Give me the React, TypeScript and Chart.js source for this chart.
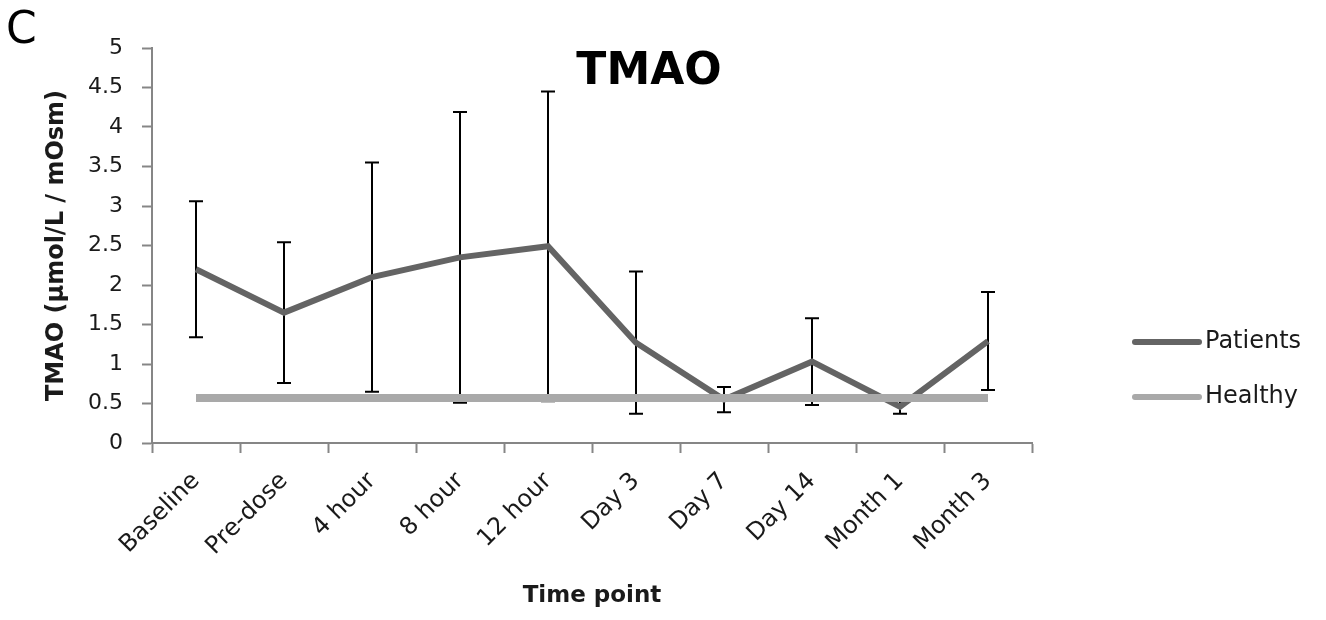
import React, { useEffect, useRef } from 'react';
import { Chart, registerables } from 'chart.js';

Chart.register(...registerables);

// ---- data ----
const categories = ['Baseline', 'Pre-dose', '4 hour', '8 hour', '12 hour', 'Day 3', 'Day 7', 'Day 14', 'Month 1', 'Month 3'];
const patientsMean = [2.2, 1.65, 2.1, 2.35, 2.49, 1.27, 0.55, 1.03, 0.46, 1.29];
const patientsSD = [0.86, 0.89, 1.45, 1.84, 1.96, 0.9, 0.16, 0.55, 0.09, 0.62];
const healthyMean = [0.57, 0.57, 0.57, 0.57, 0.57, 0.57, 0.57, 0.57, 0.57, 0.57];
const yTickValues = [0, 0.5, 1, 1.5, 2, 2.5, 3, 3.5, 4, 4.5, 5];
const seriesLabels = ['Patients', 'Healthy'];
const chartTitle = 'TMAO';
const panelLetter = 'C';
const xAxisTitle = 'Time point';
const yAxisTitle = 'TMAO (µmol/L / mOsm)';

const FONT = "'DejaVu Sans', sans-serif";
const AXIS_GRAY = '#868686';
const TEXT = '#1a1a1a';
const PATIENT_COLOR = '#646464';
const HEALTHY_COLOR = '#a9a9a9';

const errorBarsPlugin = {
  id: 'errorBars',
  beforeDatasetsDraw(chart: any) {
    const meta = chart.getDatasetMeta(0);
    const y = chart.scales.y;
    const ctx = chart.ctx;
    ctx.save();
    ctx.strokeStyle = '#000';
    ctx.lineWidth = 2;
    meta.data.forEach((pt: any, i: number) => {
      const m = patientsMean[i];
      const s = patientsSD[i];
      const px = Math.round(pt.x);
      const top = y.getPixelForValue(m + s);
      const bot = y.getPixelForValue(m - s);
      ctx.beginPath();
      ctx.moveTo(px, top);
      ctx.lineTo(px, bot);
      ctx.moveTo(px - 7, top);
      ctx.lineTo(px + 7, top);
      ctx.moveTo(px - 7, bot);
      ctx.lineTo(px + 7, bot);
      ctx.stroke();
    });
    ctx.restore();
  },
};

const decorPlugin = {
  id: 'decor',
  afterDraw(chart: any) {
    const ctx = chart.ctx;
    ctx.save();
    // title
    ctx.fillStyle = '#000';
    ctx.textAlign = 'center';
    ctx.textBaseline = 'middle';
    ctx.font = `bold 44px ${FONT}`;
    ctx.fillText(chartTitle, 649, 73);
    // panel letter
    ctx.textAlign = 'left';
    ctx.font = `44px ${FONT}`;
    ctx.fillText(panelLetter, 6, 32);
    // legend
    const ys = [342, 397];
    chart.data.datasets.forEach((ds: any, i: number) => {
      const ly = ys[i];
      ctx.strokeStyle = ds.borderColor;
      ctx.lineWidth = 6;
      ctx.lineCap = 'round';
      ctx.beginPath();
      ctx.moveTo(1135, ly);
      ctx.lineTo(1199, ly);
      ctx.stroke();
      ctx.fillStyle = TEXT;
      ctx.font = `24px ${FONT}`;
      ctx.textAlign = 'left';
      ctx.textBaseline = 'middle';
      ctx.fillText(ds.label, 1205, ly);
    });
    ctx.restore();
  },
};

export default function App() {
  const canvasRef = useRef<HTMLCanvasElement | null>(null);

  useEffect(() => {
    if (!canvasRef.current) return;
    const chart = new Chart(canvasRef.current, {
      type: 'line',
      data: {
        labels: categories,
        datasets: [
          {
            label: seriesLabels[0],
            data: patientsMean,
            borderColor: PATIENT_COLOR,
            backgroundColor: PATIENT_COLOR,
            borderWidth: 6,
            pointRadius: 0,
            tension: 0,
            borderJoinStyle: 'miter',
            order: 1,
          },
          {
            label: seriesLabels[1],
            data: healthyMean,
            borderColor: HEALTHY_COLOR,
            backgroundColor: HEALTHY_COLOR,
            borderWidth: 8,
            pointRadius: 0,
            tension: 0,
            borderCapStyle: 'butt',
            order: 0,
          },
        ],
      },
      options: {
        responsive: false,
        animation: false,
        devicePixelRatio: 1,
        events: [],
        layout: { padding: { left: 0, right: 294, top: 48, bottom: 0 } },
        plugins: {
          legend: { display: false },
          title: { display: false },
          tooltip: { enabled: false },
        },
        scales: {
          x: {
            type: 'category',
            offset: true,
            grid: {
              offset: true,
              drawOnChartArea: false,
              drawTicks: true,
              tickLength: 10,
              tickColor: AXIS_GRAY,
              tickWidth: 2,
            },
            border: { display: true, color: AXIS_GRAY, width: 2 },
            ticks: {
              autoSkip: false,
              maxRotation: 45,
              minRotation: 45,
              padding: 14,
              color: TEXT,
              font: { family: FONT, size: 24 },
            },
            title: {
              display: true,
              text: xAxisTitle,
              color: TEXT,
              font: { family: FONT, size: 23, weight: 'bold' },
              padding: { top: 0, bottom: 10 },
            },
            afterFit: (scale: any) => {
              scale.height = 177;
            },
          },
          y: {
            min: 0,
            max: 5,
            afterBuildTicks: (scale: any) => {
              scale.ticks = yTickValues.map((v) => ({ value: v }));
            },
            grid: {
              drawOnChartArea: false,
              drawTicks: true,
              tickLength: 10,
              tickColor: AXIS_GRAY,
              tickWidth: 2,
            },
            border: { display: true, color: AXIS_GRAY, width: 2 },
            ticks: {
              padding: 19,
              color: TEXT,
              font: { family: FONT, size: 22 },
              callback: (v: any) => String(v),
            },
            title: {
              display: true,
              text: yAxisTitle,
              color: TEXT,
              font: { family: FONT, size: 24, weight: 'bold' },
              padding: { top: 42, bottom: 0 },
            },
            afterFit: (scale: any) => {
              scale.width = 152;
            },
          },
        },
      },
      plugins: [errorBarsPlugin, decorPlugin],
    });
    return () => chart.destroy();
  }, []);

  return (
    <div style={{ position: 'absolute', left: 0, top: 0, width: 1326, height: 620, background: '#fff' }}>
      <canvas ref={canvasRef} width={1326} height={620} />
    </div>
  );
}
